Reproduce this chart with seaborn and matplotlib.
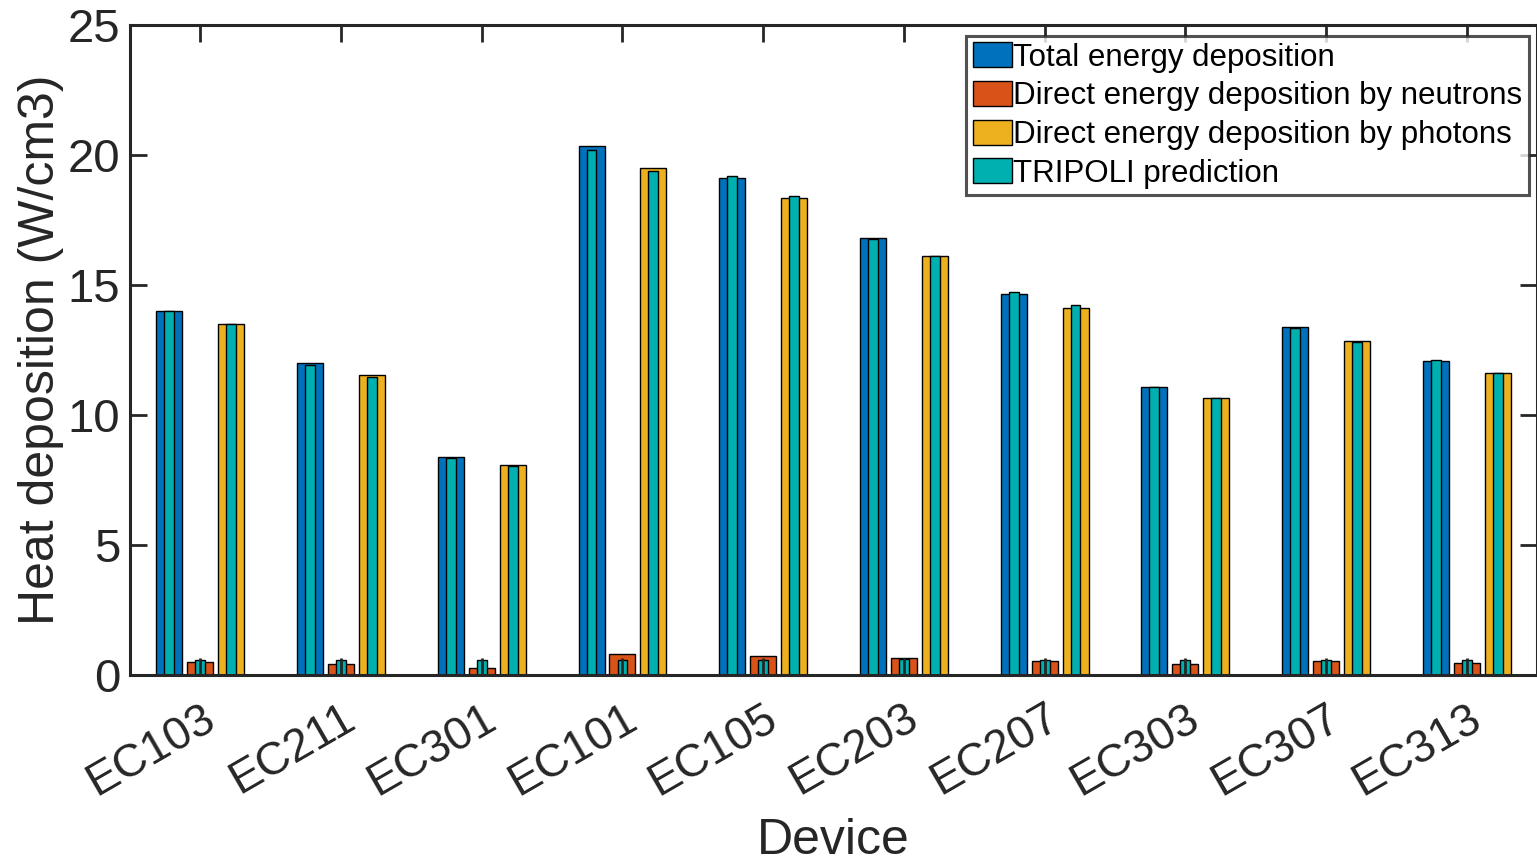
import numpy as np
import pandas as pd
import matplotlib
matplotlib.use('Agg')
import matplotlib.pyplot as plt
from matplotlib.patches import Patch
import seaborn as sns

# Data
devices = ['EC103', 'EC211', 'EC301', 'EC101', 'EC105', 'EC203', 'EC207', 'EC303', 'EC307', 'EC313']
total = [14.02, 12.02, 8.38, 20.35, 19.1, 16.8, 14.65, 11.08, 13.38, 12.06]
neutrons = [0.5, 0.42, 0.27, 0.8, 0.72, 0.65, 0.54, 0.43, 0.54, 0.46]
photons = [13.52, 11.55, 8.08, 19.5, 18.33, 16.12, 14.12, 10.64, 12.83, 11.6]
tripoli_total = [14.02, 11.92, 8.36, 20.2, 19.2, 16.78, 14.75, 11.08, 13.35, 12.1]
tripoli_neutrons = [0.57, 0.56, 0.56, 0.58, 0.56, 0.62, 0.56, 0.56, 0.56, 0.56]
tripoli_photons = [13.52, 11.48, 8.04, 19.38, 18.43, 16.12, 14.22, 10.64, 12.8, 11.63]

series = ['Total energy deposition', 'Direct energy deposition by neutrons',
          'Direct energy deposition by photons']
colors = ['#0072BD', '#D95319', '#EDB120']
teal = '#00B0B0'

measured = pd.DataFrame({
    'Device': devices * 3,
    'Series': np.repeat(series, len(devices)),
    'Value': total + neutrons + photons,
})
tripoli = pd.DataFrame({
    'Device': devices * 3,
    'Series': np.repeat(series, len(devices)),
    'Value': tripoli_total + tripoli_neutrons + tripoli_photons,
})

plt.rcParams['font.family'] = ['Liberation Sans', 'DejaVu Sans']

fig = plt.figure(figsize=(15.37, 8.63), dpi=100)
ax = fig.add_axes([0.0846, 0.2178, 0.9154, 0.7532])

sns.barplot(data=measured, x='Device', y='Value', hue='Series', hue_order=series,
            order=devices, palette=colors, width=0.66, gap=0.16, saturation=1,
            edgecolor='black', linewidth=1.0, legend=False, ax=ax)
sns.barplot(data=tripoli, x='Device', y='Value', hue='Series', hue_order=series,
            order=devices, palette=[teal] * 3, width=0.66, gap=0.68, saturation=1,
            edgecolor='black', linewidth=1.0, legend=False, ax=ax)

ax.set_xlim(-0.5, 9.5)
ax.set_ylim(0, 25)
ax.set_yticks([0, 5, 10, 15, 20, 25])

spine_col = '#262626'
for s in ax.spines.values():
    s.set_visible(True)
    s.set_color(spine_col)
    s.set_linewidth(2.2)

ax.tick_params(axis='both', direction='in', length=12, width=2, color=spine_col,
               top=True, right=True, labelsize=34, labelcolor='#262626')
ax.tick_params(axis='x', pad=15, labelsize=33)
ax.tick_params(axis='y', pad=7)
plt.setp(ax.get_xticklabels(), rotation=30, ha='right', rotation_mode='anchor')

ax.set_xlabel('Device', fontsize=36, color='#262626', labelpad=10)
ax.set_ylabel('Heat deposition (W/cm3)', fontsize=36, color='#262626', labelpad=3)

handles = [Patch(facecolor=c, edgecolor='black', linewidth=1.0) for c in colors + [teal]]
labels = series + ['TRIPOLI prediction']
leg = ax.legend(handles, labels, loc='upper right', bbox_to_anchor=(0.994, 0.983),
                fontsize=22.5, frameon=True, fancybox=False, handlelength=1.25,
                handleheight=0.85, handletextpad=0.05, labelspacing=0.27,
                borderpad=0.2, borderaxespad=0)
leg.get_frame().set_edgecolor(spine_col)
leg.get_frame().set_linewidth(2.2)

fig.savefig('out.png', dpi=100)
